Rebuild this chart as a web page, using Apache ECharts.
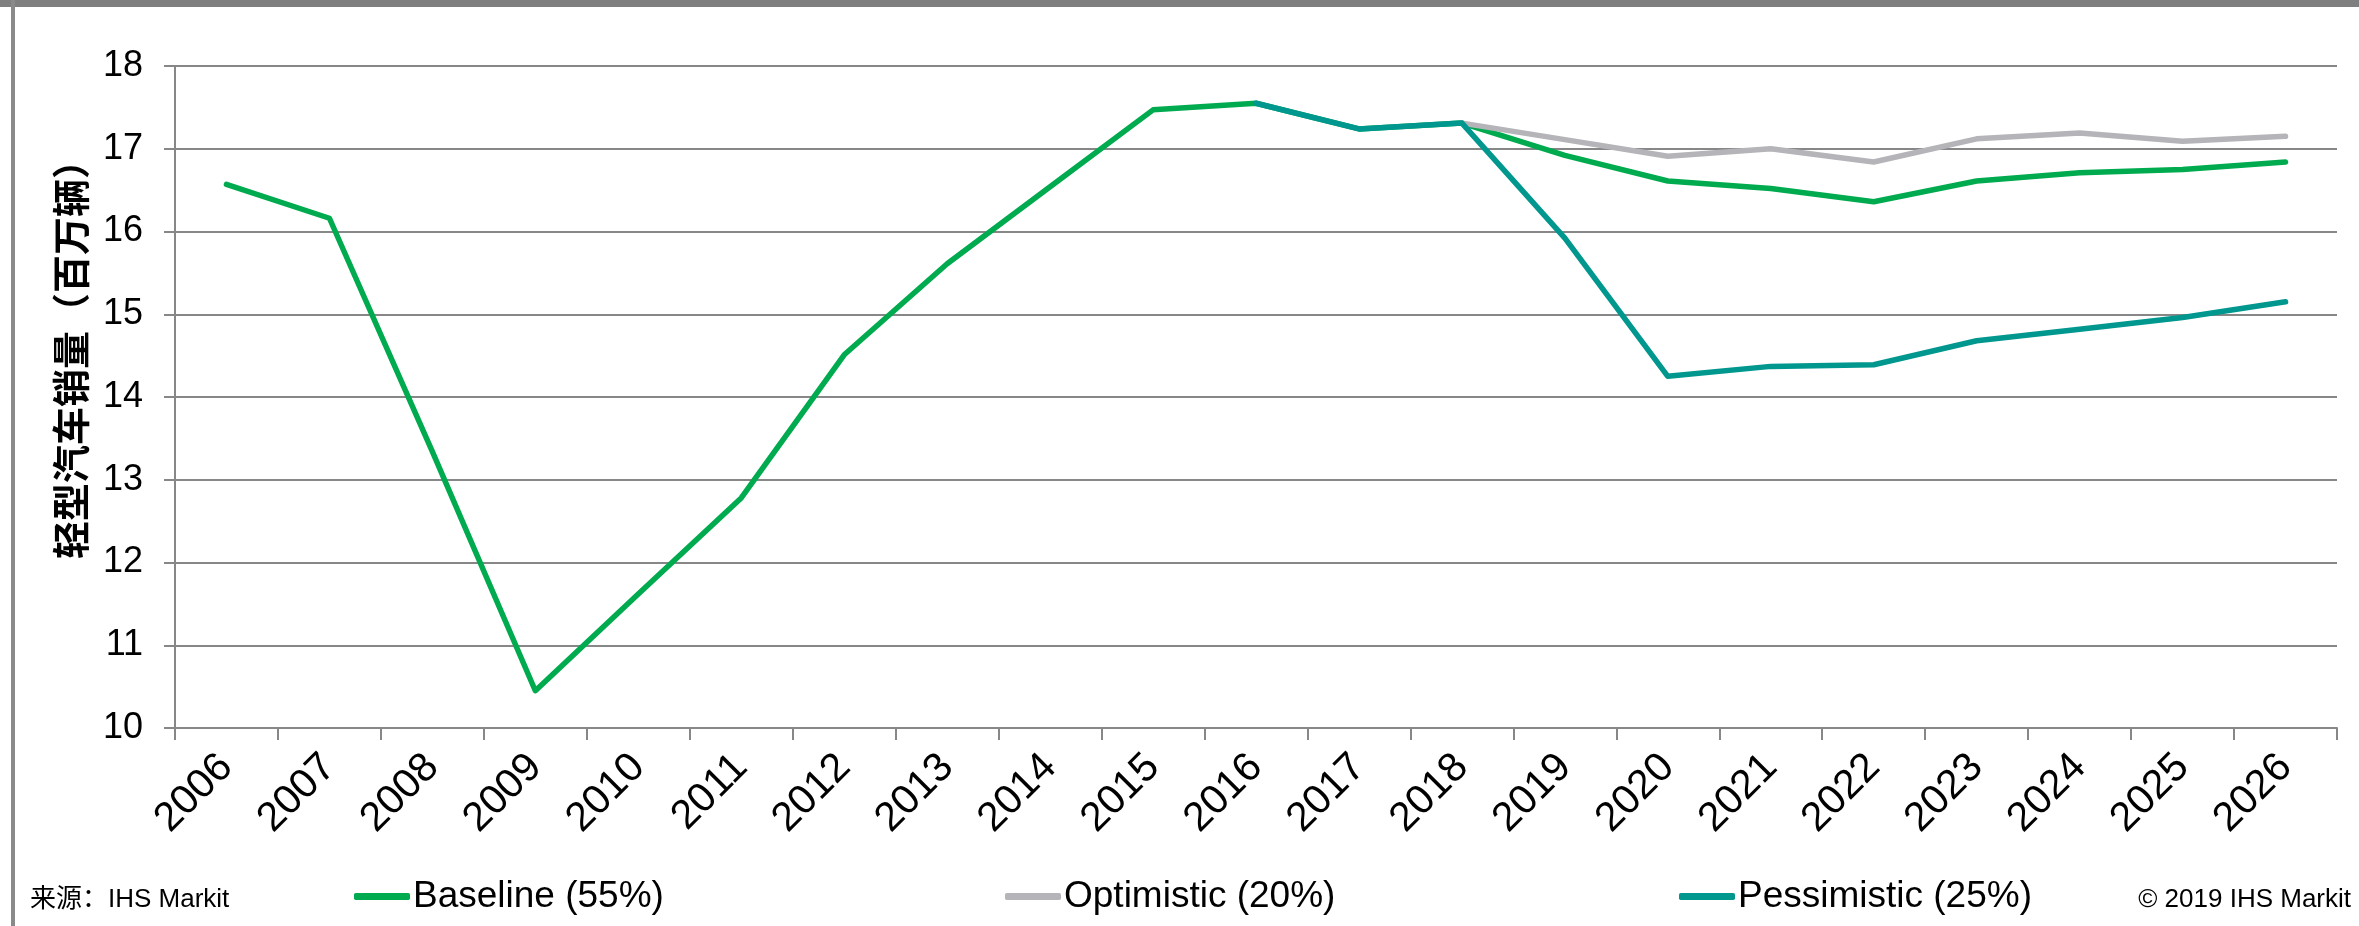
<!DOCTYPE html>
<html>
<head>
<meta charset="utf-8">
<script src="https://cdn.jsdelivr.net/npm/echarts@6/dist/echarts.min.js"></script>
<style>
  html, body { margin: 0; padding: 0; background: #ffffff; }
  #chart { width: 2359px; height: 926px; }
</style>
</head>
<body>
<div id="chart"></div>
<script>
// Light-vehicle sales scenarios, millions of units
const years = ['2006','2007','2008','2009','2010','2011','2012','2013','2014','2015','2016',
               '2017','2018','2019','2020','2021','2022','2023','2024','2025','2026'];
const baseline = [16.57, 16.16, 13.34, 10.45, 11.62, 12.78, 14.51, 15.61, 16.54, 17.47, 17.55,
                  17.24, 17.31, 16.92, 16.61, 16.52, 16.36, 16.61, 16.71, 16.75, 16.84];
const optimistic = [null, null, null, null, null, null, null, null, null, null, null,
                    null, 17.31, 17.11, 16.91, 17.00, 16.84, 17.12, 17.19, 17.09, 17.15];
const pessimistic = [null, null, null, null, null, null, null, null, null, null, 17.55,
                     17.24, 17.31, 15.92, 14.25, 14.37, 14.39, 14.68, 14.82, 14.96, 15.15];
const seriesNames = ['Baseline (55%)', 'Optimistic (20%)', 'Pessimistic (25%)'];
const yTicks = { min: 10, max: 18, step: 1 };
const axisTitle = '轻型汽车销量（百万辆）';
const sourceText = '来源：IHS Markit';
const copyrightText = '© 2019 IHS Markit';

const FONT = '"Liberation Sans", Arial, "Noto Sans CJK SC", sans-serif';
const GRID = '#878787';
const colors = ['#00ab4f', '#b4b4b9', '#00978f'];

const chart = echarts.init(document.getElementById('chart'), null, { renderer: 'canvas' });

function lineSeries(name, data, color) {
  return {
    name: name,
    type: 'line',
    data: data,
    showSymbol: false,
    symbol: 'none',
    connectNulls: false,
    animation: false,
    lineStyle: { color: color, width: 5.5, cap: 'round', join: 'round' },
    itemStyle: { color: color }
  };
}

function legendAt(name, left) {
  return {
    data: [name],
    left: left,
    top: 873,
    itemWidth: 56,
    itemHeight: 7,
    itemGap: 3,
    icon: 'roundRect',
    selectedMode: false,
    textStyle: { fontFamily: FONT, fontSize: 37, color: '#000000', padding: [0, 0, 0, -2] }
  };
}

chart.setOption({
  backgroundColor: '#ffffff',
  animation: false,
  grid: { left: 175, right: 22, top: 66, bottom: 198, containLabel: false },
  xAxis: {
    type: 'category',
    data: years,
    boundaryGap: true,
    axisLine: { show: true, lineStyle: { color: GRID, width: 2 } },
    axisTick: { show: true, length: 12, alignWithLabel: false, interval: 0, lineStyle: { color: GRID, width: 2 } },
    axisLabel: { interval: 0, rotate: 45, margin: 33, fontFamily: FONT, fontSize: 41, color: '#000000' },
    splitLine: { show: false }
  },
  yAxis: {
    type: 'value',
    min: yTicks.min,
    max: yTicks.max,
    interval: yTicks.step,
    axisLine: { show: true, lineStyle: { color: GRID, width: 2 } },
    axisTick: { show: true, length: 11, lineStyle: { color: GRID, width: 2 } },
    axisLabel: { margin: 32, fontFamily: FONT, fontSize: 36, color: '#000000' },
    splitLine: { show: true, lineStyle: { color: GRID, width: 2 } }
  },
  legend: [
    legendAt(seriesNames[0], 349),
    legendAt(seriesNames[1], 1000),
    legendAt(seriesNames[2], 1674)
  ],
  graphic: [
    { type: 'rect', left: 0, top: 0, z: 100, shape: { width: 2359, height: 7 }, style: { fill: '#7f7f7f' } },
    { type: 'rect', left: 11, top: 0, z: 100, shape: { width: 4, height: 926 }, style: { fill: '#8a8a8a' } },
    {
      type: 'text', x: 71, y: 350, rotation: Math.PI / 2, z: 100,
      style: { text: axisTitle, font: 'bold 38px "Noto Sans CJK SC", sans-serif', fill: '#000000',
               align: 'center', verticalAlign: 'middle', textAlign: 'center', textVerticalAlign: 'middle' }
    },
    {
      type: 'text', x: 30, y: 900, z: 100,
      style: { text: sourceText, font: '26px "Liberation Sans", Arial, "Noto Sans CJK SC", sans-serif', fill: '#000000',
               align: 'left', verticalAlign: 'middle', textAlign: 'left', textVerticalAlign: 'middle' }
    },
    {
      type: 'text', x: 2351, y: 900, z: 100,
      style: { text: copyrightText, font: '26px "Liberation Sans", Arial, sans-serif', fill: '#000000',
               align: 'right', verticalAlign: 'middle', textAlign: 'right', textVerticalAlign: 'middle' }
    }
  ],
  series: [
    lineSeries(seriesNames[0], baseline, colors[0]),
    lineSeries(seriesNames[1], optimistic, colors[1]),
    lineSeries(seriesNames[2], pessimistic, colors[2])
  ]
});
</script>
</body>
</html>
